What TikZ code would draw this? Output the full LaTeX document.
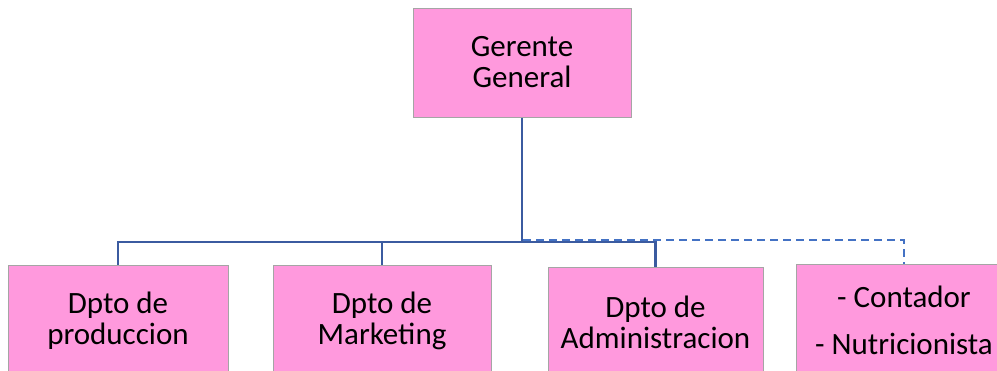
\documentclass[tikz,border=0pt]{standalone}
\usepackage{fontspec}
\setmainfont{Carlito}
\definecolor{boxpink}{RGB}{255,153,221}
\definecolor{boxedge}{RGB}{165,165,165}
\definecolor{linedark}{RGB}{59,91,160}
\definecolor{linelight}{RGB}{68,114,196}
\begin{document}
\begin{tikzpicture}[x=1pt,y=-1pt,
  orgbox/.style={draw=boxedge,line width=1pt,fill=boxpink,align=center,inner sep=0pt,
    font=\fontsize{31}{31}\selectfont,text=black,minimum height=111pt},
  solidline/.style={draw=linedark,line width=2.6pt},
  dashline/.style={draw=linelight,line width=1.8pt,dash pattern=on 8pt off 5pt}]
\useasboundingbox (0,0) rectangle (997,370);
\clip (0,0) rectangle (997,370);
\node[orgbox,minimum width=218pt,minimum height=109pt] (top) at (522,62.5) {Gerente\\General};
\node[orgbox,minimum width=220pt,minimum height=112pt] (b1) at (118,321) {Dpto de\\produccion};
\node[orgbox,minimum width=218pt,minimum height=112pt] (b2) at (382,321) {Dpto de\\Marketing};
\node[orgbox,minimum width=215pt,minimum height=110pt] (b3) at (655.5,322) {Dpto de\\Administracion};
\node[orgbox,minimum width=216pt,minimum height=112pt,font=\fontsize{31}{47}\selectfont] (b4) at (904,320) {- Contador\\- Nutricionista};
\coordinate (bus) at (522,242);
\coordinate (dbus) at (523,240);
\draw[dashline] (dbus) -| (b4.north);
\draw[solidline] (top.south) -- (bus);
\draw[solidline] (bus) -| (b1.north);
\draw[solidline] (bus) -| (b2.north);
\draw[solidline] (bus) -| (b3.north);
\end{tikzpicture}
\end{document}
